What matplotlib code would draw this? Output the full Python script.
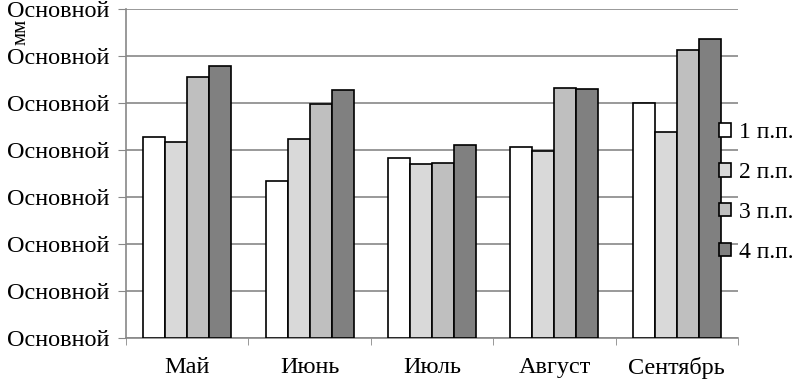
import numpy as np
import matplotlib.pyplot as plt

months = ['Май', 'Июнь', 'Июль', 'Август', 'Сентябрь']
series = ['1 п.п.', '2 п.п.', '3 п.п.', '4 п.п.']
s1 = [4.28, 3.34, 3.83, 4.06, 5.00]
s2 = [4.17, 4.23, 3.70, 3.98, 4.38]
s3 = [5.55, 4.98, 3.72, 5.32, 6.13]
s4 = [5.79, 5.28, 4.11, 5.30, 6.36]
colors = ['#ffffff', '#d9d9d9', '#bfbfbf', '#808080']

plt.rcParams['font.family'] = ['Liberation Serif', 'DejaVu Serif']

fig = plt.figure(figsize=(7.95, 3.83), dpi=100)
ax = fig.add_axes([126/795, 1-338/383, 612/795, 329/383])

x = np.arange(len(months))
w = 0.18
for i, (vals, c, lab) in enumerate(zip([s1, s2, s3, s4], colors, series)):
    ax.bar(x + (i - 1.5) * w, vals, w, color=c, edgecolor='black', linewidth=1.2,
           label=lab, zorder=3)

ax.set_xlim(-0.5, len(months) - 0.5)
ax.set_ylim(0, 7)
ax.set_yticks(range(8))
ax.set_yticklabels(['Основной'] * 8, fontsize=17.5)
ax.set_xticks(x)
ax.set_xticklabels(months, fontsize=17.5)
ax.set_xticks(np.arange(-0.5, len(months)), minor=True)
ax.tick_params(axis='x', which='major', length=0, pad=14)
ax.tick_params(axis='x', which='minor', length=5, color='#888888', direction='out')
ax.tick_params(axis='y', length=6, color='#888888', pad=6)
ax.grid(axis='y', color='#888888', linewidth=1.2, zorder=0)
for s in ['top', 'right']:
    ax.spines[s].set_visible(False)
for s in ['left', 'bottom']:
    ax.spines[s].set_color('#888888')
    ax.spines[s].set_linewidth(1.2)

fig.text(12/795, 1-32/383, 'мм', rotation=90, fontsize=15, ha='left', va='center')

ax.legend(loc='center left', bbox_to_anchor=(719/795, 0.497), bbox_transform=fig.transFigure,
          frameon=False, fontsize=17, handlelength=0.5, handleheight=0.5,
          handletextpad=0.35, labelspacing=0.8, borderaxespad=0, borderpad=0)

fig.savefig('out.png', dpi=100)
